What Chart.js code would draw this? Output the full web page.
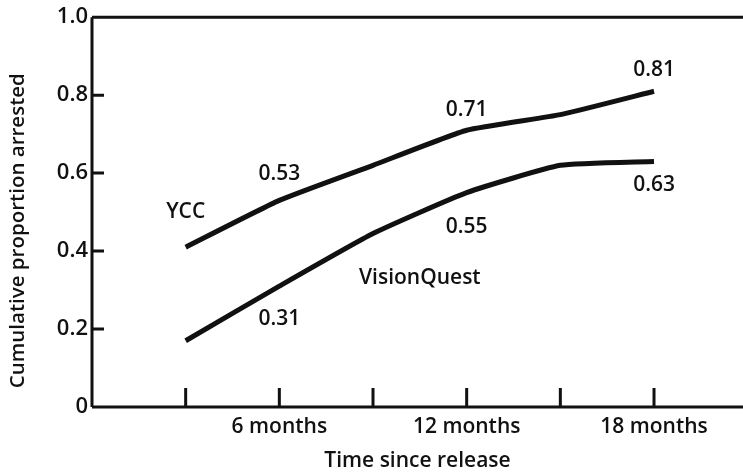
<!DOCTYPE html>
<html lang="en">
<head>
<meta charset="UTF-8">
<title>Cumulative proportion arrested</title>
<script src="https://cdn.jsdelivr.net/npm/chart.js"></script>
<style>
    html, body { margin: 0; padding: 0; background: #fff; }
    #wrap { width: 743px; height: 476px; }
</style>
</head>
<body>
<div id="wrap"><canvas id="chart" width="743" height="476"></canvas></div>
<script>
    // data
    const months = [3, 6, 9, 12, 15, 18];
    const ycc = [0.41, 0.53, 0.62, 0.71, 0.75, 0.81];
    const visionQuest = [0.17, 0.31, 0.445, 0.55, 0.62, 0.63];
    const yTicks = [0, 0.2, 0.4, 0.6, 0.8, 1.0];
    const labelledMonths = [6, 12, 18];

    const FONT = '"Open Sans", "DejaVu Sans", sans-serif';
    const SIZE = 21;
    const WEIGHT = 600;
    const ink = '#111';

    // axis box + inward tick marks + text labels on the curves
    const decorations = {
        id: 'decorations',
        afterDraw(chart) {
            const ctx = chart.ctx;
            const x = chart.scales.x, y = chart.scales.y;
            const a = chart.chartArea;
            ctx.save();
            ctx.strokeStyle = ink;
            ctx.lineWidth = 3;
            ctx.beginPath();
            ctx.moveTo(a.left, a.top); ctx.lineTo(a.right, a.top);
            ctx.moveTo(a.left, a.top); ctx.lineTo(a.left, a.bottom);
            ctx.moveTo(a.left, a.bottom); ctx.lineTo(a.right, a.bottom);
            ctx.stroke();

            ctx.beginPath();
            yTicks.forEach(v => {
                if (v === 0 || v === 1) return;
                const py = y.getPixelForValue(v);
                ctx.moveTo(a.left, py); ctx.lineTo(a.left + 12, py);
            });
            months.forEach(m => {
                const px = x.getPixelForValue(m);
                ctx.moveTo(px, a.bottom); ctx.lineTo(px, a.bottom - 19);
            });
            ctx.stroke();

            ctx.fillStyle = ink;
            ctx.font = WEIGHT + ' ' + SIZE + 'px ' + FONT;
            ctx.textAlign = 'center';
            ctx.textBaseline = 'middle';
            const put = (m, v, dy, txt) =>
                ctx.fillText(txt, x.getPixelForValue(m), y.getPixelForValue(v) + dy);

            [1, 3, 5].forEach((i, k) => put(months[i], ycc[i], [-26, -20, -21][k], ycc[i].toFixed(2)));
            [1, 3, 5].forEach((i, k) => put(months[i], visionQuest[i], [33, 34, 24][k], visionQuest[i].toFixed(2)));
            put(months[0], ycc[0], -35, 'YCC');
            put(10.5, 0.33, 0, 'VisionQuest');
            ctx.restore();
        }
    };

    const font = { family: FONT, size: SIZE, weight: WEIGHT };

    new Chart(document.getElementById('chart'), {
        type: 'line',
        data: {
            datasets: [{
                label: 'YCC',
                data: months.map((m, i) => ({x: m, y: ycc[i]})),
                borderColor: ink,
                borderWidth: 5,
                pointRadius: 0,
                tension: 0.15
            }, {
                label: 'VisionQuest',
                data: months.map((m, i) => ({x: m, y: visionQuest[i]})),
                borderColor: ink,
                borderWidth: 5,
                pointRadius: 0,
                tension: 0.15
            }]
        },
        options: {
            responsive: false,
            animation: false,
            layout: { padding: { top: 14, right: 0, left: 0, bottom: 0 } },
            plugins: {
                legend: { display: false },
                tooltip: { enabled: false }
            },
            scales: {
                x: {
                    type: 'linear',
                    min: 0,
                    max: 20.85,
                    afterBuildTicks: s => { s.ticks = labelledMonths.map(v => ({value: v})); },
                    afterFit: s => { s.height = 69; },
                    grid: { display: false, drawTicks: false },
                    border: { display: false },
                    ticks: {
                        autoSkip: false,
                        maxRotation: 0,
                        padding: 7,
                        color: ink,
                        font: font,
                        callback: v => v + ' months'
                    },
                    title: {
                        display: true,
                        text: 'Time since release',
                        color: ink,
                        font: font,
                        padding: { top: 0, bottom: 2 }
                    }
                },
                y: {
                    min: 0,
                    max: 1,
                    afterBuildTicks: s => { s.ticks = yTicks.map(v => ({value: v})); },
                    afterFit: s => { s.width = 92; },
                    grid: { display: false, drawTicks: false },
                    border: { display: false },
                    ticks: {
                        padding: 4,
                        color: ink,
                        font: { family: FONT, size: 22, weight: WEIGHT },
                        callback: v => v === 0 ? '0' : v.toFixed(1)
                    },
                    title: {
                        display: true,
                        text: 'Cumulative proportion arrested       ',
                        color: ink,
                        font: { family: FONT, size: 20.5, weight: WEIGHT },
                        padding: { top: 6, bottom: 0 }
                    }
                }
            }
        },
        plugins: [decorations]
    });
</script>
</body>
</html>
